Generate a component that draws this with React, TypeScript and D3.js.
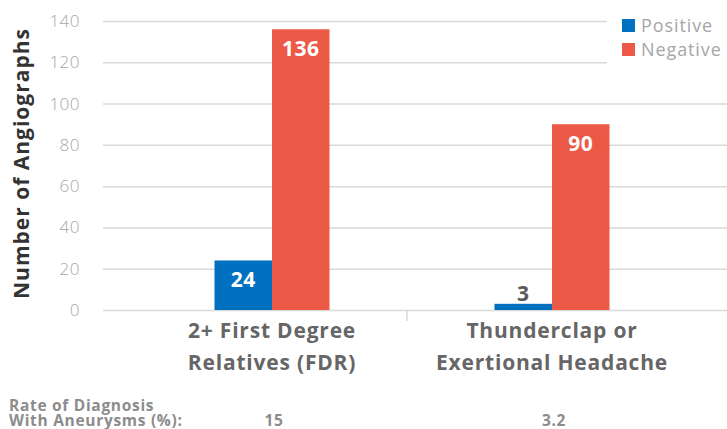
import { useEffect, useRef } from 'react'

import * as d3 from 'd3'

const categories = ['2+ First Degree|Relatives (FDR)', 'Thunderclap or|Exertional Headache']
const seriesNames = ['Positive', 'Negative']
const positive = [24, 3]
const negative = [136, 90]
const rates = ['15', '3.2']
const yTicks = [0, 20, 40, 60, 80, 100, 120, 140]
const colors = ['#0070c0', '#ec5a47']

const width = 727
const height = 429
const margin = { top: 21, right: 0, bottom: 119, left: 103 }
const font = "'Open Sans', sans-serif"

export default function App() {
  const svgRef = useRef<SVGSVGElement>(null)

  useEffect(() => {
    if (!svgRef.current) return

    d3.select(svgRef.current).selectAll('*').remove()
    const svg = d3.select(svgRef.current)

    const y = d3
      .scaleLinear()
      .domain([0, 140])
      .range([height - margin.bottom, margin.top])

    const x0 = d3
      .scaleBand()
      .domain(categories)
      .range([132, 692])

    const x1 = d3
      .scaleBand()
      .domain(seriesNames)
      .range([0, 115])

    const groupOffset = (x0.bandwidth() - 115) / 2

    // grid lines
    svg
      .append('g')
      .attr('transform', `translate(${margin.left},0)`)
      .call(
        d3
          .axisLeft(y)
          .tickValues(yTicks)
          .tickSize(-(width - margin.left))
          .tickFormat(() => ''),
      )
      .call((g) => g.select('.domain').remove())
      .call((g) => g.selectAll('line').attr('stroke', '#d9d9d9').attr('stroke-width', 1.5))

    // y tick labels
    svg
      .append('g')
      .selectAll('text')
      .data(yTicks)
      .join('text')
      .attr('x', 80)
      .attr('y', (d) => y(d))
      .attr('dy', '0.35em')
      .attr('text-anchor', 'end')
      .attr('font-family', font)
      .attr('font-size', 17)
      .attr('font-weight', 300)
      .attr('letter-spacing', 0.5)
      .attr('fill', '#a6a6a6')
      .text((d) => d)

    // category separator
    svg
      .append('line')
      .attr('x1', x0(categories[1])! - 5)
      .attr('x2', x0(categories[1])! - 5)
      .attr('y1', y(0))
      .attr('y2', y(0) + 11)
      .attr('stroke', '#d9d9d9')
      .attr('stroke-width', 1.5)

    const rows = categories.map((c, i) => ({ c, vals: [positive[i], negative[i]] }))

    const groups = svg
      .append('g')
      .selectAll('g')
      .data(rows)
      .join('g')
      .attr('transform', (d) => `translate(${x0(d.c)! + groupOffset},0)`)

    groups
      .selectAll('rect')
      .data((d) => d.vals.map((v, j) => ({ v, s: seriesNames[j], j })))
      .join('rect')
      .attr('x', (d) => x1(d.s)!)
      .attr('width', x1.bandwidth())
      .attr('y', (d) => y(d.v))
      .attr('height', (d) => y(0) - y(d.v))
      .attr('fill', (d) => colors[d.j])

    groups
      .selectAll('text')
      .data((d) => d.vals.map((v, j) => ({ v, s: seriesNames[j], j })))
      .join('text')
      .attr('x', (d) => x1(d.s)! + x1.bandwidth() / 2)
      .attr('y', (d) => (d.v < 10 ? y(d.v) - 10 : y(d.v) + 19))
      .attr('dy', '0.35em')
      .attr('text-anchor', 'middle')
      .attr('font-family', font)
      .attr('font-size', 21)
      .attr('font-weight', 700)
      .attr('letter-spacing', 0.5)
      .attr('fill', (d) => (d.v < 10 ? '#595959' : '#ffffff'))
      .text((d) => d.v)

    // category labels
    const catText = svg
      .append('g')
      .selectAll('text')
      .data(categories)
      .join('text')
      .attr('text-anchor', 'middle')
      .attr('font-family', font)
      .attr('font-size', 21)
      .attr('font-weight', 700)
      .attr('letter-spacing', 0.8)
      .attr('fill', '#666666')

    catText
      .selectAll('tspan')
      .data((d) => d.split('|').map((t) => ({ t, c: d })))
      .join('tspan')
      .attr('x', (d) => x0(d.c)! + x0.bandwidth() / 2)
      .attr('y', (d, i) => 338 + i * 32)
      .text((d) => d.t)

    // y axis title
    svg
      .append('text')
      .attr('transform', `translate(29,${(y(0) + y(140)) / 2 - 2}) rotate(-90)`)
      .attr('text-anchor', 'middle')
      .attr('font-family', font)
      .attr('font-size', 21)
      .attr('font-weight', 700)
      .attr('letter-spacing', 1)
      .attr('fill', '#333333')
      .text('Number of Angiographs')

    // legend
    svg
      .append('rect')
      .attr('x', 607)
      .attr('y', 10)
      .attr('width', 120)
      .attr('height', 56)
      .attr('fill', '#ffffff')

    const legend = svg
      .append('g')
      .selectAll('g')
      .data(seriesNames)
      .join('g')
      .attr('transform', (d, i) => `translate(622,${19 + i * 24})`)

    legend
      .append('rect')
      .attr('width', 13)
      .attr('height', 13)
      .attr('fill', (d, i) => colors[i])

    legend
      .append('text')
      .attr('x', 19)
      .attr('y', 7)
      .attr('dy', '0.35em')
      .attr('font-family', font)
      .attr('font-size', 18)
      .attr('letter-spacing', 0.9)
      .attr('fill', '#a6a6a6')
      .text((d) => d)

    // rate row
    const rateText = (sel: d3.Selection<SVGTextElement, any, any, any>) =>
      sel
        .attr('font-family', font)
        .attr('font-size', 15.5)
        .attr('font-weight', 700)
        .attr('letter-spacing', 0.7)
        .attr('fill', '#8c8c8c')

    svg.append('text').attr('x', 9).attr('y', 411).call(rateText).text('Rate of Diagnosis')
    svg.append('text').attr('x', 9).attr('y', 426).call(rateText).text('With Aneurysms (%):')

    svg
      .append('g')
      .selectAll('text')
      .data(rates)
      .join('text')
      .attr('x', (d, i) => x0(categories[i])! + x0.bandwidth() / 2 + 2)
      .attr('y', 426)
      .attr('text-anchor', 'middle')
      .call(rateText)
      .text((d) => d)
  }, [])

  return (
    <svg
      ref={svgRef}
      width={width}
      height={height}
      style={{ position: 'absolute', left: 0, top: 0, background: '#fff' }}
    />
  )
}
